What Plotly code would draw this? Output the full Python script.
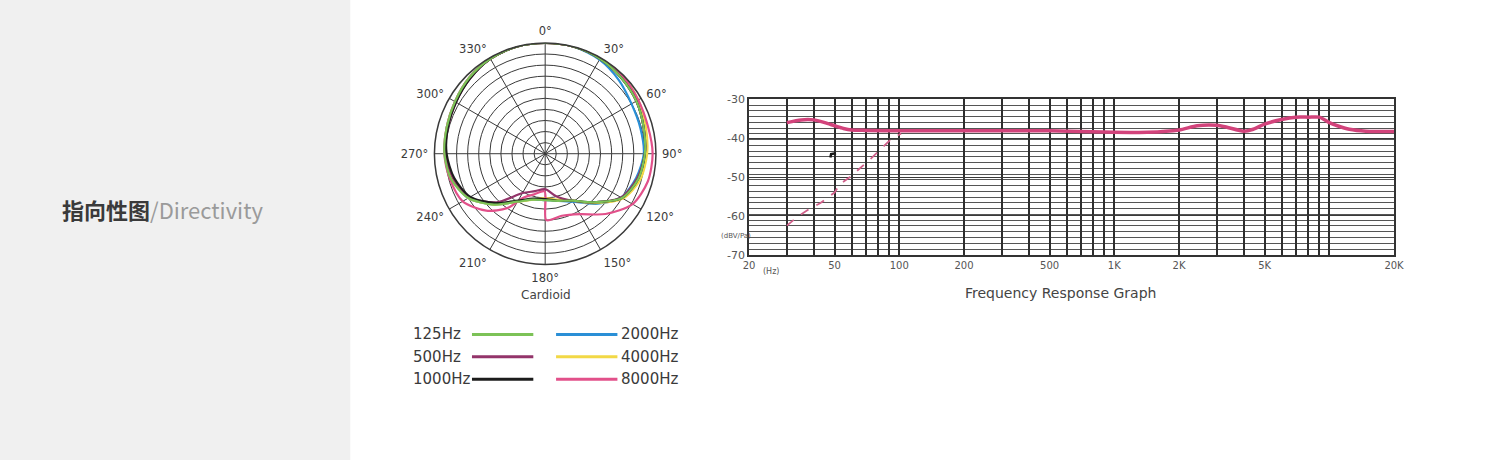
import math
import plotly.graph_objects as go

# ---------------- data ----------------
# polar (directivity) – relative level (1.0 = outer ring)
polar_angles = [0, 15, 30, 45, 60, 75, 90, 105, 120, 135, 150, 165, 180,
                195, 210, 225, 240, 255, 270, 285, 300, 315, 330, 345, 360]
lvl_125 = [1.0, 1.0, 0.99, 0.97, 0.95, 0.92, 0.90, 0.87, 0.80, 0.62, 0.49, 0.44, 0.42,
           0.43, 0.50, 0.65, 0.80, 0.88, 0.91, 0.92, 0.94, 0.97, 0.99, 1.0, 1.0]
lvl_500 = [1.0, 1.0, 0.99, 0.97, 0.95, 0.92, 0.90, 0.86, 0.79, 0.62, 0.49, 0.40, 0.32,
           0.35, 0.41, 0.62, 0.79, 0.86, 0.90, 0.91, 0.93, 0.96, 0.99, 1.0, 1.0]
lvl_1000 = [1.0, 1.0, 0.99, 0.97, 0.95, 0.92, 0.90, 0.87, 0.80, 0.62, 0.49, 0.44, 0.41,
            0.42, 0.49, 0.63, 0.78, 0.85, 0.89, 0.91, 0.93, 0.96, 0.99, 1.0, 1.0]
lvl_2000 = [1.0, 1.0, 0.98, 0.94, 0.90, 0.89, 0.89, 0.85, 0.79, 0.64, 0.50, 0.44, 0.42,
            0.43, 0.50, 0.65, 0.80, 0.87, 0.90, 0.92, 0.94, 0.97, 0.99, 1.0, 1.0]
lvl_4000 = [1.0, 1.0, 1.0, 0.99, 0.97, 0.94, 0.92, 0.89, 0.81, 0.63, 0.49, 0.43, 0.40,
            0.43, 0.50, 0.65, 0.80, 0.87, 0.90, 0.92, 0.94, 0.97, 0.99, 1.0, 1.0]
angles_8000 = [0, 15, 30, 45, 60, 75, 90, 105, 120, 135, 150, 165, 179, 181,
               195, 206, 215, 226, 240, 255, 270, 285, 300, 315, 330, 345, 360]
lvl_8000 = [1.0, 1.0, 1.0, 0.99, 0.97, 0.96, 0.97, 0.96, 0.91, 0.77, 0.63, 0.58, 0.60, 0.34,
            0.38, 0.44, 0.60, 0.74, 0.86, 0.89, 0.91, 0.92, 0.94, 0.97, 0.99, 1.0, 1.0]
angle_ticks = [0, 30, 60, 90, 120, 150, 180, 210, 240, 270, 300, 330]
ring_levels = [0.1, 0.2, 0.3, 0.4, 0.5, 0.6, 0.7, 0.8, 0.9]

series_names = ["125Hz", "500Hz", "1000Hz", "2000Hz", "4000Hz", "8000Hz"]
series_colors = ["#7cc257", "#93346a", "#1c1c1c", "#2a8fd6", "#f2d846", "#e2508a"]

# frequency response
resp_hz = [30, 35, 40, 45, 50, 55, 60, 70, 100, 200, 500, 1000, 1425, 2000, 2430, 3000,
           3340, 4000, 4430, 5000, 6000, 7000, 8000, 9000, 10000, 10900, 12400, 14800, 20000]
resp_db = [-36.0, -35.3, -35.3, -36.0, -36.8, -37.5, -37.9, -38.0, -38.1, -38.1, -38.1, -38.5,
           -38.5, -37.9, -36.8, -36.7, -37.2, -38.2, -37.7, -36.4, -35.2, -34.6, -34.6, -34.6,
           -36.0, -36.8, -37.7, -38.2, -38.3]
lowcut_hz = [30, 34, 39, 43, 50, 53, 59, 66, 74, 91, 102]
lowcut_db = [-62.5, -60.0, -57.9, -56.7, -54.0, -51.8, -50.0, -47.7, -45.2, -40.4, -38.8]
marker_hz = [47.8, 48.2, 50.8]
marker_db = [-45.0, -44.1, -43.9]

grid_hz = [20, 30, 40, 50, 60, 70, 80, 90, 100, 200, 300, 400, 500, 600, 700, 800, 900,
           1000, 2000, 3000, 4000, 5000, 6000, 7000, 8000, 9000, 10000, 20000]
x_labels = {20: "20", 50: "50", 100: "100", 200: "200", 500: "500",
            1000: "1K", 2000: "2K", 5000: "5K", 20000: "20K"}
y_ticks = [-70, -60, -50, -40, -30]

# ---------------- figure ----------------
W, H = 1500, 460
fig = go.Figure()

polar_sets = [
    ("2000Hz", polar_angles, lvl_2000),
    ("4000Hz", polar_angles, lvl_4000),
    ("8000Hz", angles_8000, lvl_8000),
    ("500Hz", polar_angles, lvl_500),
    ("1000Hz", polar_angles, lvl_1000),
    ("125Hz", polar_angles, lvl_125),
]
color_of = dict(zip(series_names, series_colors))
for name, ang, lvl in polar_sets:
    fig.add_trace(go.Scatterpolar(
        theta=ang, r=lvl, mode="lines", name=name, showlegend=False,
        line=dict(color=color_of[name], width=2.2, shape="spline", smoothing=0.8),
        subplot="polar"))

fig.add_trace(go.Scatter(x=lowcut_hz, y=lowcut_db, mode="lines", showlegend=False,
                         line=dict(color="#d0608a", width=1.8, dash="dash"),
                         xaxis="x", yaxis="y"))
fig.add_trace(go.Scatter(x=resp_hz, y=resp_db, mode="lines", showlegend=False,
                         line=dict(color="#d2437b", width=3.5, shape="spline", smoothing=0.7),
                         xaxis="x", yaxis="y"))
fig.add_trace(go.Scatter(x=marker_hz, y=marker_db, mode="lines", showlegend=False,
                         line=dict(color="#1a1a1a", width=2.5),
                         xaxis="x", yaxis="y"))

def px(x):
    return x / W

def py(y):
    return 1 - y / H

cx, cy, R = 545, 152, 114
grid_c = "#3a3a3a"

fig.update_layout(
    width=W, height=H,
    margin=dict(l=0, r=0, t=0, b=0),
    paper_bgcolor="white", plot_bgcolor="white",
    showlegend=False,
    polar=dict(
        domain=dict(x=[px(cx - R), px(cx + R)], y=[py(cy + R), py(cy - R)]),
        bgcolor="white",
        angularaxis=dict(rotation=90, direction="clockwise",
                         tickvals=angle_ticks, ticktext=[f"{a}°" for a in angle_ticks],
                         showline=True, linecolor=grid_c, linewidth=1.5,
                         gridcolor=grid_c, gridwidth=1.3,
                         ticks="outside", ticklen=3, tickcolor="rgba(0,0,0,0)",
                         tickfont=dict(family="DejaVu Sans", size=11.5, color="#3a3a3a")),
        radialaxis=dict(range=[0, 1], tickvals=ring_levels, showticklabels=False,
                        ticks="", showline=False, gridcolor=grid_c, gridwidth=1.3),
    ),
    xaxis=dict(domain=[px(751), px(1403)], type="log",
               range=[math.log10(20), math.log10(20000)],
               tickvals=grid_hz, ticktext=[x_labels.get(v, "") for v in grid_hz],
               showgrid=True, gridcolor="#2e2e2e", gridwidth=1.6,
               showline=True, mirror=True, linecolor="#333", linewidth=1.5,
               ticks="", zeroline=False, anchor="y",
               tickfont=dict(family="DejaVu Sans", size=10, color="#555")),
    yaxis=dict(domain=[py(256), py(96)], range=[-70, -30],
               tickvals=y_ticks, ticktext=[str(v) for v in y_ticks],
               showgrid=True, gridcolor="#3a3a3a", gridwidth=1.4,
               minor=dict(tick0=-70, dtick=40 / 27, showgrid=True,
                          gridcolor="#555", gridwidth=1.3),
               showline=True, mirror=True, linecolor="#333", linewidth=1.5,
               ticks="", zeroline=False, anchor="x",
               tickfont=dict(family="DejaVu Sans", size=11, color="#555")),
)

shapes = [dict(type="rect", xref="paper", yref="paper", x0=-0.02, x1=px(348),
               y0=-0.06, y1=1.06,
               fillcolor="#f0f0f0", line=dict(width=0), layer="below")]
annotations = [
    dict(text="<b>指向性图</b><span style='color:#9a9a9a'>/Directivity</span>",
         x=px(55), y=py(209), xref="paper", yref="paper", xanchor="left", yanchor="middle",
         showarrow=False, font=dict(family="Noto Sans CJK SC", size=22, color="#3a3a3a")),
    dict(text="Cardioid", x=px(546), y=py(297), xref="paper", yref="paper",
         xanchor="center", yanchor="middle",
         showarrow=False, font=dict(family="DejaVu Sans", size=12, color="#444")),
    dict(text="Frequency Response Graph", x=px(1066), y=py(295), xref="paper", yref="paper",
         xanchor="center", yanchor="middle",
         showarrow=False, font=dict(family="DejaVu Sans", size=14, color="#444")),
    dict(text="(Hz)", x=px(773), y=py(273), xref="paper", yref="paper",
         xanchor="center", yanchor="middle",
         showarrow=False, font=dict(family="DejaVu Sans", size=8, color="#555")),
    dict(text="(dBV/Pa)", x=px(738), y=py(237), xref="paper", yref="paper",
         xanchor="center", yanchor="middle",
         showarrow=False, font=dict(family="DejaVu Sans", size=7, color="#555")),
]

rows_y = [338, 361, 384]
for i, name in enumerate(series_names):
    col, row = divmod(i, 3)
    yy = py(rows_y[row])
    if col == 0:
        x0, x1, tx = 471, 533, 409
    else:
        x0, x1, tx = 556, 618, 620
    shapes.append(dict(type="line", xref="paper", yref="paper", x0=px(x0), x1=px(x1),
                       y0=yy, y1=yy, line=dict(color=color_of[name], width=3)))
    annotations.append(dict(text=name, x=px(tx), y=yy, xref="paper", yref="paper",
                            xanchor="left", yanchor="middle", showarrow=False,
                            font=dict(family="DejaVu Sans", size=15, color="#3a3a3a")))

fig.update_layout(shapes=shapes, annotations=annotations)

fig.write_html(
    "out.html", config={"displayModeBar": False},
    post_script=("document.documentElement.style.margin='0';"
                 "document.body.style.margin='0';document.body.style.padding='0';"
                 "document.body.style.overflow='hidden';"))
